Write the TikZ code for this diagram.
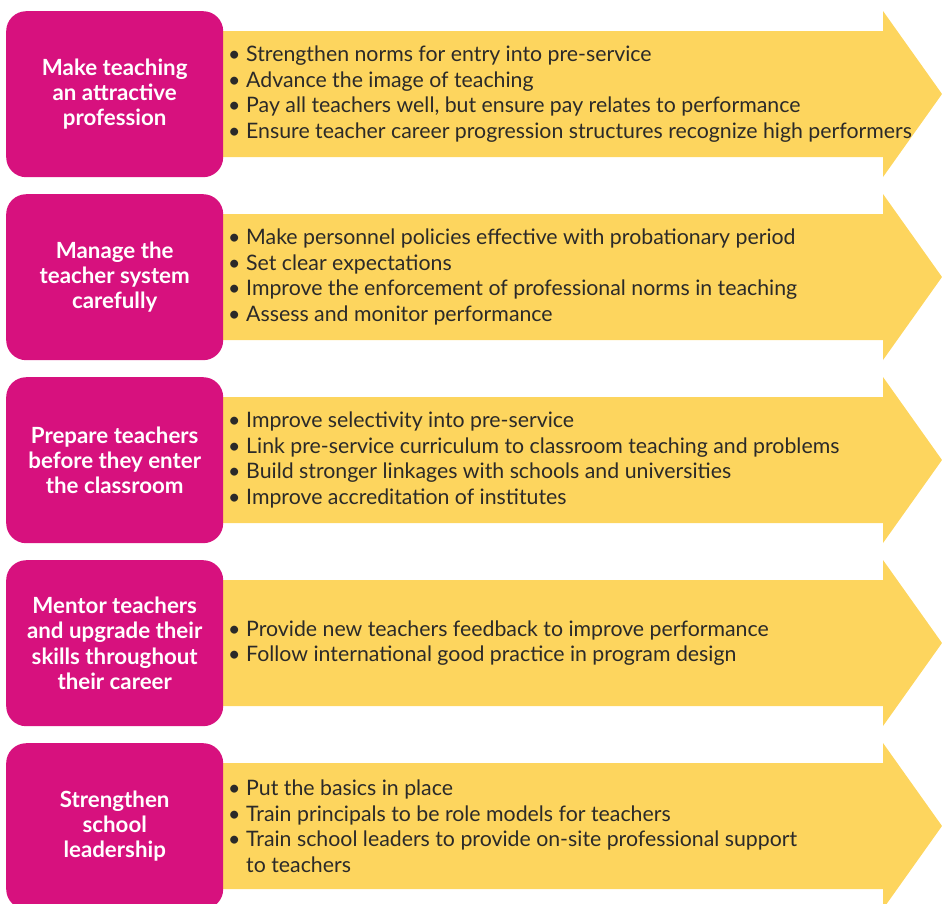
\documentclass[tikz,border=0pt]{standalone}
\usepackage{fontspec}
\setmainfont{Lato}
\usepackage{tikz}
\usetikzlibrary{positioning}
\definecolor{berry}{HTML}{D7117E}
\definecolor{sun}  {HTML}{FDD55E}
\definecolor{ink}  {HTML}{2B2A29}
\newcommand{\itm}{\makebox[18pt][l]{\textbullet}}
\newcommand{\cont}{\hspace*{18pt}}
\tikzset{
  % --- nodes
  topic/.style  = {rounded corners=20pt, fill=berry, text=white, align=center,
                   font=\fontsize{22.3}{25.3}\selectfont\bfseries, inner sep=0pt,
                   minimum width=217pt, minimum height=166pt, anchor=north west},
  points/.style = {anchor=west, align=left, text=ink, inner sep=0pt,
                   font=\fontsize{21.3}{25.5}\selectfont},
  % --- arrows
  band/.style   = {fill=sun},
}
\begin{document}
\begin{tikzpicture}[x=1pt,y=-1pt]
  \useasboundingbox (0,0) rectangle (942,903);
  % yellow arrows behind the boxes
  \foreach \t in {11,194,377,560,743}
    \fill[band] (215,\t+20) -- (883,\t+20) -- (883,\t) -- (942,\t+83)
      -- (883,\t+166) -- (883,\t+146) -- (215,\t+146) -- cycle;
  % magenta boxes
  \node[topic] (attract) at (6,11)  {Make teaching\\an attractive\\profession};
  \node[topic] (manage)  at (6,194) {Manage the\\teacher system\\carefully};
  \node[topic] (prepare) at (6,377) {Prepare teachers\\before they enter\\the classroom};
  \node[topic] (mentor)  at (6,560) {Mentor teachers\\and upgrade their\\skills throughout\\their career};
  \node[topic] (lead)    at (6,743) {Strengthen\\school\\leadership};
  % bullet lists
  \node[points] (attractpts) at (228,94)
    {\itm Strengthen norms for entry into pre-service\\
     \itm Advance the image of teaching\\
     \itm Pay all teachers well, but ensure pay relates to performance\\
     \itm Ensure teacher career progression structures recognize high performers};
  \node[points] (managepts) at (228,277)
    {\itm Make personnel policies effective with probationary period\\
     \itm Set clear expectations\\
     \itm Improve the enforcement of professional norms in teaching\\
     \itm Assess and monitor performance};
  \node[points] (preparepts) at (228,460)
    {\itm Improve selectivity into pre-service\\
     \itm Link pre-service curriculum to classroom teaching and problems\\
     \itm Build stronger linkages with schools and universities\\
     \itm Improve accreditation of institutes};
  \node[points] (mentorpts) at (228,643)
    {\itm Provide new teachers feedback to improve performance\\
     \itm Follow international good practice in program design};
  \node[points] (leadpts) at (228,826)
    {\itm Put the basics in place\\
     \itm Train principals to be role models for teachers\\
     \itm Train school leaders to provide on-site professional support\\
     \cont to teachers};
\end{tikzpicture}
\end{document}
